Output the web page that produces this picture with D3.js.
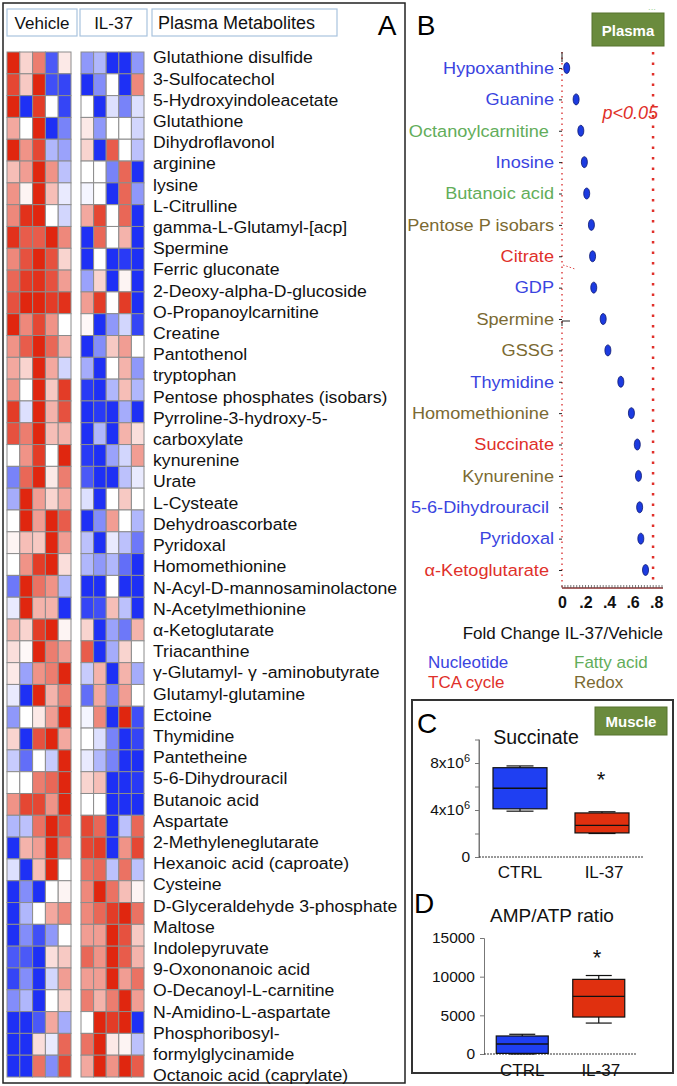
<!DOCTYPE html>
<html><head><meta charset="utf-8">
<script src="https://cdn.jsdelivr.net/npm/d3@7"></script>
<style>body{margin:0;background:#fff}svg{display:block;font-family:"Liberation Sans",Arial,sans-serif}</style>
</head><body>
<svg id="chart" width="677" height="1086"></svg>
<script>
// ---------- DATA ----------
const metaboliteLines = ["Glutathione disulfide","3-Sulfocatechol","5-Hydroxyindoleacetate","Glutathione","Dihydroflavonol","arginine","lysine","L-Citrulline","gamma-L-Glutamyl-[acp]","Spermine","Ferric gluconate","2-Deoxy-alpha-D-glucoside","O-Propanoylcarnitine","Creatine","Pantothenol","tryptophan","Pentose phosphates (isobars)","Pyrroline-3-hydroxy-5-","carboxylate","kynurenine","Urate","L-Cysteate","Dehydroascorbate","Pyridoxal","Homomethionine","N-Acyl-D-mannosaminolactone","N-Acetylmethionine","α-Ketoglutarate","Triacanthine","γ-Glutamyl- γ -aminobutyrate","Glutamyl-glutamine","Ectoine","Thymidine","Pantetheine","5-6-Dihydrouracil","Butanoic acid","Aspartate","2-Methyleneglutarate","Hexanoic acid (caproate)","Cysteine","D-Glyceraldehyde 3-phosphate","Maltose","Indolepyruvate","9-Oxononanoic acid","O-Decanoyl-L-carnitine","N-Amidino-L-aspartate","Phosphoribosyl-","formylglycinamide","Octanoic acid (caprylate)"];
const vehicle = [
[1,0.2,0.6,-0.8,0.1],[0.85,0.25,1,-0.85,-0.9],[1,-1,0.9,0,-0.9],[0.4,0,1,-1,-0.6],[1,0.5,0.85,-0.35,-0.45],
[0.3,0.45,1,0.5,-0.3],[0.5,0.05,1,0.3,-0.1],[0.55,0.95,1,0,-0.2],[0.95,0.75,0.75,1,0.55],[0.55,0.8,1,0.8,0.2],
[0.7,0.9,0.95,0.8,0.45],[0.8,1,1,0.9,0.95],[1,0.55,0.85,0.5,0],[0.5,0.75,1,0.7,0.35],[0.4,0.2,1,0.4,-0.2],
[0.5,0,1,0.25,0.9],[0.9,-0.15,1,0.35,0.8],[0.8,0.6,1,0.3,0.35],[0,0.5,0.9,0,1],[-0.6,0.7,1,0.1,0.6],
[-0.4,1,0.45,0.2,0.4],[0,1,0.45,1,0.75],[0.05,0.3,0.25,1,0.45],[0,0.5,0.9,1,0.15],[-0.65,1,0.65,0.5,-0.35],
[-0.1,1,0.35,0.35,-1],[0.35,0.2,0.9,1,0.05],[0.15,0.03,1,0.6,0.45],[0.1,-0.45,0.5,0.6,1],[-0.1,-1,1,0.35,0.6],
[-0.5,0,0.1,0.45,1],[0.2,-1,0.8,1,0.4],[-0.25,-0.7,0,-0.25,1],[0,0,0.6,0.7,1],[0.5,0.85,0.85,0.5,1],
[-0.35,-0.3,0.65,1,0.8],[-1,0.35,0.45,1,0.6],[-0.15,-1,0.3,1,0],[-1,-0.55,-1,0,0.05],[-1,-0.35,0,0.4,0.55],
[-1,-0.55,-0.85,-0.5,0],[-0.8,-0.8,-1,0.15,0.25],[-0.9,-0.55,-1,-0.2,0.45],[-0.55,-0.35,-1,0,0.2],[-1,-1,-0.8,0.4,-0.4],
[-1,-1,0.15,-0.1,0.7],[-1,-1,0.65,-0.55,0.85]];
const il37 = [
[-0.5,-0.35,-1,-1,-0.5],[-1,-0.55,0,-1,0.55],[0,-1,-0.15,-0.6,-0.15],[0.1,-0.5,0,0,-0.2],[0.2,-1,0.75,0,-0.3],
[0,0,-0.6,0.7,-1],[-0.05,0,-1,0.7,-0.5],[0.4,0.85,0,0.7,-1],[-1,0.7,0,0.35,-1],[-1,0,-1,-0.95,-1],
[-0.45,0.2,-1,0.05,-1],[0.45,0.9,0,0.9,-1],[0.03,-1,-0.5,-0.2,-0.9],[-1,-0.55,0.25,0.45,0],[-0.4,-1,0,0.35,-0.5],
[-0.95,-1,-0.35,0.3,-0.35],[-1,-0.95,-1,-0.4,-1],[-1,-0.35,-1,0.35,0.15],[-0.95,-1,-0.45,-0.2,0.45],[-0.8,-1,-1,-0.3,-0.1],
[-0.15,-1,0,0.25,0],[-1,-0.55,0.45,0,-0.35],[-0.3,-1,-0.1,-0.3,-0.65],[-0.35,-0.5,-0.35,-0.7,-1],[-1,-1,0,-1,-1],
[-0.9,-0.85,0.3,-0.3,-1],[0.2,-1,-0.45,-0.65,0.35],[0.75,-1,-0.4,0.2,0],[-0.25,0.35,-1,0.35,-0.4],[-0.7,0.4,-0.6,0.45,0],
[-0.05,0.55,-1,1,-0.85],[0,-0.15,-0.6,-1,-0.9],[-0.1,-0.35,-0.6,-1,-1],[0.2,0.3,-1,-1,-0.95],[0,0,-1,-1,-1],
[0.85,0.7,-1,-0.3,0.7],[0.85,0.9,-1,0.5,0.85],[0.65,0.7,-0.3,0.65,-0.3],[0.55,1,0.65,0.3,0.05],[0.55,0.7,0.9,1,0.65],
[0.45,0.45,1,0.8,0.25],[0.7,0.5,1,0.75,0.35],[0.45,0.45,1,0.45,0.65],[0.6,0.35,0.6,1,0.45],[0,1,0.9,1,-1],
[0.65,1,0.1,0.05,-0.3],[0.4,1,0.5,1,0.75]];
const groupHeaders = ["Vehicle","IL-37","Plasma Metabolites"];

const plasmaNames = ["Hypoxanthine","Guanine","Octanoylcarnitine\u00a0","Inosine","Butanoic acid","Pentose P isobars","Citrate","GDP","Spermine","GSSG","Thymidine","Homomethionine\u00a0","Succinate","Kynurenine","5-6-Dihydrouracil\u00a0","Pyridoxal","α-Ketoglutarate\u00a0"];
const plasmaClass = ["Nucleotide","Nucleotide","Fatty acid","Nucleotide","Fatty acid","Redox","TCA cycle","Nucleotide","Redox","Redox","Nucleotide","Redox","TCA cycle","Redox","Nucleotide","Nucleotide","TCA cycle"];
const foldChange = [0.04,0.12,0.16,0.19,0.21,0.25,0.26,0.27,0.35,0.39,0.50,0.59,0.64,0.65,0.66,0.67,0.71];
const foldTicks = [0,0.2,0.4,0.6,0.8];
const pThreshold = 0.774;
const classNames = ["Nucleotide","Fatty acid","TCA cycle","Redox"];
const classColors = ["#3a44e0","#62ad5a","#e0302a","#7b6a32"];

const groups = ["CTRL","IL-37"];
const succinateStats = [ {min:3.9e6,q1:4.1e6,med:5.85e6,q3:7.6e6,max:7.75e6}, {min:2.0e6,q1:2.05e6,med:2.7e6,q3:3.75e6,max:3.85e6} ];
const succinateTicks = [0,2e6,4e6,6e6,8e6];
const succinateLabels = {0:"0",4000000:"4x10",8000000:"8x10"};
const ampStats = [ {min:0,q1:80,med:1290,q3:2330,max:2550}, {min:4000,q1:4780,med:7450,q3:9650,max:10150} ];
const ampTicks = [0,5000,10000,15000];
const boxColors = ["#1f3ff2","#e0300f"];

// ---------- DRAW ----------
const svg = d3.select("#chart");
const color = d3.scaleLinear().domain([-1,0,1]).range(["#1e30f5","#ffffff","#e0260f"]);

// Panel A frame
svg.append("rect").attr("x",3).attr("y",3).attr("width",402).attr("height",1080).attr("fill","none").attr("stroke","#222").attr("stroke-width",1.5);
const hdr = [{x:7,w:70},{x:80,w:67},{x:152,w:185}];
hdr.forEach((h,i)=>{
  svg.append("rect").attr("x",h.x).attr("y",9).attr("width",h.w).attr("height",27).attr("fill","#fff").attr("stroke","#a9c3de").attr("stroke-width",1.2);
  svg.append("text").attr("x", i<2 ? h.x+h.w/2 : h.x+6).attr("y",23).attr("text-anchor", i<2?"middle":"start")
    .attr("dominant-baseline","central").attr("font-size",i<2?17:18).attr("fill","#111").text(groupHeaders[i]);
});
svg.append("text").attr("x",387).attr("y",35).attr("text-anchor","middle").attr("font-size",28).text("A");

const rowY = d3.scaleBand().domain(d3.range(vehicle.length)).range([52,1077]);
function heat(data, x0, x1){
  const cx = d3.scaleBand().domain(d3.range(5)).range([x0,x1]);
  const g = svg.append("g");
  data.forEach((row,r)=>row.forEach((v,c)=>{
    g.append("rect").attr("x",cx(c)).attr("y",rowY(r)).attr("width",cx.bandwidth()).attr("height",rowY.bandwidth())
      .attr("fill",color(v)).attr("stroke","#8c8c8c").attr("stroke-width",1);
  }));
}
heat(vehicle,7,71);
heat(il37,81,144);
const labY = d3.scalePoint().domain(d3.range(metaboliteLines.length)).range([58,1076]);
svg.append("g").attr("transform","translate(153,0) scale(1.07,1)").selectAll("text").data(metaboliteLines).join("text")
  .attr("x",0).attr("y",(d,i)=>labY(i)).attr("dominant-baseline","central").attr("font-size",16.5).attr("fill","#111").text(d=>d);

// Panel B
svg.append("text").attr("x",426).attr("y",35).attr("text-anchor","middle").attr("font-size",28).text("B");
svg.append("rect").attr("x",592).attr("y",13).attr("width",72).attr("height",33).attr("fill","#6a8b3d").attr("stroke","#56722f");
svg.append("text").attr("x",628).attr("y",30).attr("text-anchor","middle").attr("dominant-baseline","central").attr("font-size",15).attr("font-weight","bold").attr("fill","#fff").text("Plasma");
svg.append("text").attr("x",652).attr("y",12).attr("text-anchor","middle").attr("font-size",8).attr("fill","#7cc46a").text("···");

const bx = d3.scaleLinear().domain([0,0.85]).range([562,662]);
const by = d3.scalePoint().domain(plasmaNames).range([68,570]);
const clsColor = d3.scaleOrdinal().domain(classNames).range(classColors);
// p threshold line
svg.append("line").attr("x1",bx(pThreshold)).attr("x2",bx(pThreshold)).attr("y1",52).attr("y2",586)
  .attr("stroke","#e0302a").attr("stroke-width",2.5).attr("stroke-dasharray","2.5,8");
svg.append("text").attr("x",bx(pThreshold)+5).attr("y",113).attr("text-anchor","end").attr("dominant-baseline","central")
  .attr("font-size",18).attr("font-style","italic").attr("fill","#e0302a").text("p<0.05");
// y axis
svg.append("line").attr("x1",562).attr("x2",562).attr("y1",52).attr("y2",588).attr("stroke","#d44").attr("stroke-width",1.5).attr("stroke-dasharray","1.5,4");
svg.append("line").attr("x1",562).attr("x2",562).attr("y1",52).attr("y2",62).attr("stroke","#222").attr("stroke-width",1);
svg.append("path").attr("d","M562,326 L562,321 L570,321").attr("fill","none").attr("stroke","#222").attr("stroke-width",1);
svg.append("line").attr("x1",563).attr("x2",575).attr("y1",265).attr("y2",269).attr("stroke","#e05050").attr("stroke-width",1).attr("stroke-dasharray","1.5,2");
const yAx = svg.append("g").attr("transform","translate(562,0)").call(d3.axisLeft(by).tickSize(3).tickPadding(5));
yAx.select(".domain").remove();
yAx.selectAll(".tick line").attr("stroke","#222");
yAx.selectAll(".tick text").attr("font-size",16.5).attr("font-family","'Liberation Sans',Arial,sans-serif")
  .attr("transform","scale(1.1,1)").attr("x",-8/1.1)
  .attr("fill",(d,i)=>clsColor(plasmaClass[i]));
// x axis
const xAx = svg.append("g").attr("transform","translate(0,588)")
  .call(d3.axisBottom(bx).tickValues(foldTicks).tickSize(0).tickPadding(9).tickFormat(d=>d===0?"0":d3.format(".1f")(d).replace(/^0/,"")));
xAx.select(".domain").attr("stroke","#8a3030").attr("stroke-width",1.5).attr("d","M562,0H663");
xAx.selectAll(".tick text").attr("font-size",16).attr("font-weight","bold").attr("fill","#111").attr("font-family","'Liberation Sans',Arial,sans-serif");
svg.append("g").selectAll("line").data(d3.range(0,0.86,0.025)).join("line")
  .attr("x1",d=>bx(d)).attr("x2",d=>bx(d)).attr("y1",585).attr("y2",588).attr("stroke","#555").attr("stroke-width",0.8);
// dots
svg.append("g").selectAll("ellipse").data(foldChange).join("ellipse")
  .attr("cx",d=>bx(d)).attr("cy",(d,i)=>by(plasmaNames[i])).attr("rx",3).attr("ry",5.5)
  .attr("fill","#1c3be0").attr("stroke","#0c1870").attr("stroke-width",0.8);
svg.append("text").attr("x",663).attr("y",633).attr("text-anchor","end").attr("dominant-baseline","central").attr("font-size",17).attr("fill","#111").text("Fold Change IL-37/Vehicle");
// legend
const legPos = [[428,662],[574,662],[428,682],[574,682]];
svg.append("g").selectAll("text").data(classNames).join("text")
  .attr("x",(d,i)=>legPos[i][0]).attr("y",(d,i)=>legPos[i][1]).attr("dominant-baseline","central")
  .attr("font-size",17).attr("fill",d=>clsColor(d)).text(d=>d);

// Panels C/D frame
svg.append("rect").attr("x",412).attr("y",700).attr("width",261).attr("height",373).attr("fill","none").attr("stroke","#333").attr("stroke-width",2);

function boxPanel(stats, yScale, xRange, ticks, labelFn, yAxisX, catY, boxW, starPos){
  const x = d3.scalePoint().domain(groups).range(xRange).padding(0.5);
  const yAxis = svg.append("g").attr("transform",`translate(${yAxisX},0)`)
    .call(d3.axisLeft(yScale).tickValues(ticks).tickSize(4).tickPadding(5).tickFormat(()=>""));
  yAxis.select(".domain").attr("stroke","#777");
  yAxis.selectAll(".tick line").attr("stroke","#777");
  yAxis.selectAll(".tick text").each(function(d){
    const lbl = labelFn(d); if(lbl==null) return;
    const t = d3.select(this).attr("font-size",15.5).attr("fill","#111").attr("font-family","'Liberation Sans',Arial,sans-serif");
    t.text(lbl.text);
    if(lbl.sup){ t.append("tspan").attr("dy",-6).attr("font-size",11).text(lbl.sup); }
  });
  svg.append("line").attr("x1",xRange[0]).attr("x2",xRange[1]).attr("y1",yScale(0)).attr("y2",yScale(0))
    .attr("stroke","#333").attr("stroke-width",1).attr("stroke-dasharray","2,1");
  const g = svg.append("g");
  stats.forEach((s,i)=>{
    const cx = x(groups[i]);
    g.append("line").attr("x1",cx).attr("x2",cx).attr("y1",yScale(s.max)).attr("y2",yScale(s.min)).attr("stroke","#111").attr("stroke-width",1.2);
    [s.max,s.min].forEach(v=>g.append("line").attr("x1",cx-boxW/4).attr("x2",cx+boxW/4).attr("y1",yScale(v)).attr("y2",yScale(v)).attr("stroke","#111").attr("stroke-width",1.2));
    g.append("rect").attr("x",cx-boxW/2).attr("y",yScale(s.q3)).attr("width",boxW).attr("height",yScale(s.q1)-yScale(s.q3))
      .attr("fill",boxColors[i]).attr("stroke","#111").attr("stroke-width",1.2);
    g.append("line").attr("x1",cx-boxW/2).attr("x2",cx+boxW/2).attr("y1",yScale(s.med)).attr("y2",yScale(s.med)).attr("stroke","#111").attr("stroke-width",1.3);
    svg.append("text").attr("x",cx+(i===1?2:0)).attr("y",catY).attr("text-anchor","middle").attr("dominant-baseline","central").attr("font-size",17).attr("fill","#111").text(groups[i]);
  });
  svg.append("text").attr("x",starPos[0]).attr("y",starPos[1]).attr("text-anchor","middle").attr("dominant-baseline","central").attr("font-size",22).attr("fill","#111").text("*");
}

// C
svg.append("text").attr("x",417).attr("y",733).attr("font-size",28).text("C");
svg.append("rect").attr("x",595).attr("y",707).attr("width",72).attr("height",28).attr("fill","#6a8b3d").attr("stroke","#56722f");
svg.append("text").attr("x",631).attr("y",721).attr("text-anchor","middle").attr("dominant-baseline","central").attr("font-size",15).attr("font-weight","bold").attr("fill","#fff").text("Muscle");
svg.append("text").attr("x",536).attr("y",737).attr("text-anchor","middle").attr("dominant-baseline","central").attr("font-size",19.5).attr("fill","#111").text("Succinate");
const yC = d3.scaleLinear().domain([0,10e6]).range([857,739.5]);
svg.append("line").attr("x1",479).attr("x2",479).attr("y1",739.5).attr("y2",857).attr("stroke","#777");
boxPanel(succinateStats, yC, [479,643], succinateTicks,
  d=> d in succinateLabels ? {text:succinateLabels[d], sup: d===0?null:"6"} : null, 479, 872, 54, [601,779]);

// D
svg.append("text").attr("x",414).attr("y",913).attr("font-size",28).text("D");
svg.append("text").attr("x",552).attr("y",915).attr("text-anchor","middle").attr("dominant-baseline","central").attr("font-size",19).attr("fill","#111").text("AMP/ATP ratio");
const yD = d3.scaleLinear().domain([0,15000]).range([1054,938]);
boxPanel(ampStats, yD, [484,637], ampTicks, d=>({text:String(d)}), 484, 1070, 52, [597,957]);
</script>
</body></html>
